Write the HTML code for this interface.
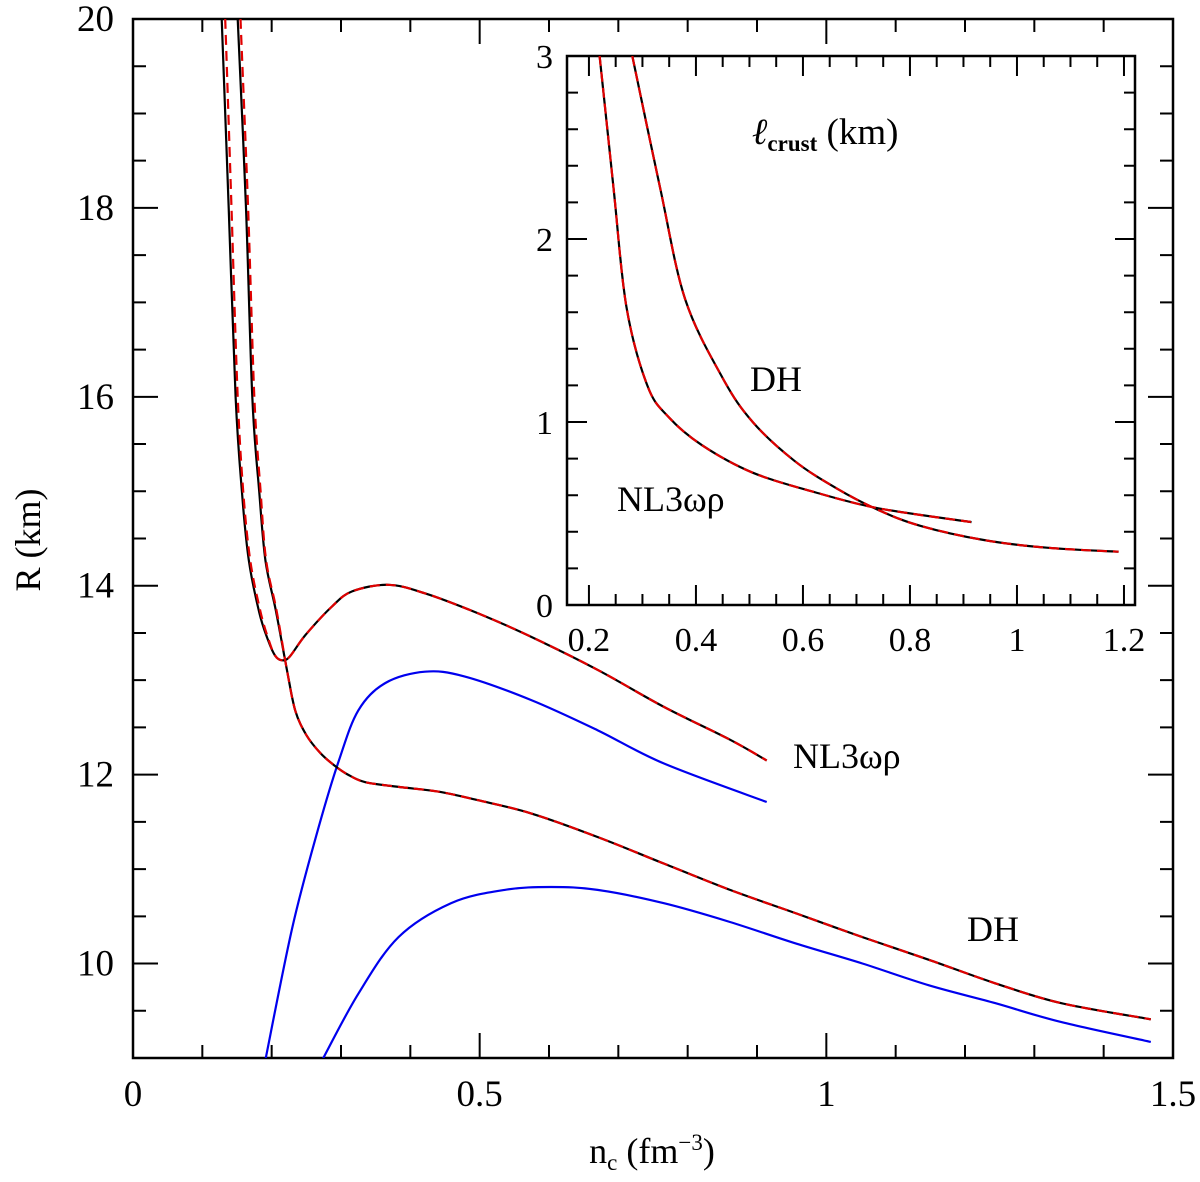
<!DOCTYPE html>
<html><head><meta charset="utf-8"><style>
html,body{margin:0;padding:0;background:#fff;}
svg{display:block;font-family:"Liberation Serif",serif;}
</style></head><body>
<svg id="chart" width="1200" height="1182" viewBox="0 0 1200 1182" xmlns="http://www.w3.org/2000/svg"></svg>
<script>
// ---------- main panel data ----------
const nlN   = [0.128,0.138,0.148,0.157,0.167,0.182,0.195,0.205,0.215,0.226,0.249,0.287,0.316,0.368,0.421,0.497,0.574,0.670,0.765,0.861,0.914];
const nlR   = [20,18,16,15,14.27,13.72,13.42,13.26,13.21,13.25,13.48,13.78,13.94,14.01,13.92,13.71,13.46,13.11,12.72,12.37,12.15];
const nlRedN= [0.133,0.142,0.151,0.159,0.169,0.184,0.196,0.205,0.215,0.226,0.249,0.287,0.316,0.368,0.421,0.497,0.574,0.670,0.765,0.861,0.914];
const dhN   = [0.151,0.163,0.172,0.182,0.191,0.206,0.222,0.234,0.250,0.270,0.290,0.310,0.335,0.383,0.440,0.497,0.574,0.670,0.765,0.861,0.957,1.052,1.148,1.244,1.339,1.468];
const dhR   = [20,18,16,15,14.27,13.74,13.11,12.68,12.42,12.23,12.10,12.00,11.92,11.87,11.82,11.73,11.59,11.34,11.06,10.78,10.53,10.28,10.04,9.79,9.58,9.41];
const dhRedN= [0.155,0.166,0.175,0.184,0.192,0.207,0.222,0.234,0.250,0.270,0.290,0.310,0.335,0.383,0.440,0.497,0.574,0.670,0.765,0.861,0.957,1.052,1.148,1.244,1.339,1.468];
const blueNlN = [0.191,0.230,0.268,0.297,0.325,0.364,0.421,0.478,0.574,0.670,0.765,0.914];
const blueNlR = [8.98,10.39,11.45,12.15,12.68,12.97,13.09,13.04,12.79,12.47,12.12,11.71];
const blueDhN = [0.273,0.325,0.383,0.459,0.536,0.603,0.670,0.765,0.861,0.957,1.052,1.148,1.244,1.339,1.468];
const blueDhR = [8.98,9.68,10.28,10.64,10.78,10.81,10.78,10.64,10.44,10.21,10.00,9.77,9.58,9.38,9.17];
const mainXTicks = ["0","0.5","1","1.5"];
const mainYTicks = ["10","12","14","16","18","20"];
// ---------- inset data ----------
const inNlN = [0.220,0.246,0.270,0.309,0.348,0.411,0.506,0.624,0.742,0.915];
const inNlL = [3.0,2.28,1.63,1.20,1.03,0.874,0.723,0.615,0.528,0.453];
const inDhN = [0.281,0.333,0.380,0.450,0.506,0.584,0.663,0.742,0.820,0.938,1.056,1.19];
const inDhL = [3.0,2.28,1.67,1.24,1.00,0.788,0.637,0.518,0.432,0.355,0.313,0.291];
const inXTicks = ["0.2","0.4","0.6","0.8","1","1.2"];
const inYTicks = ["0","1","2","3"];

const NS="http://www.w3.org/2000/svg";
const svg=document.getElementById('chart');
function mk(tag,attrs,parent){const e=document.createElementNS(NS,tag);for(const k in attrs)e.setAttribute(k,attrs[k]);(parent||svg).appendChild(e);return e;}

const M={x0:133,x1:1173,y0:1058,y1:19,xmin:0,xmax:1.5,ymin:9,ymax:20};
const I={x0:567,x1:1135,y0:605,y1:56,xmin:0.159,xmax:1.2206,ymin:0,ymax:3};
function sx(A,v){return A.x0+(v-A.xmin)/(A.xmax-A.xmin)*(A.x1-A.x0);}
function sy(A,v){return A.y0-(v-A.ymin)/(A.ymax-A.ymin)*(A.y0-A.y1);}

function catmull(pts){
  let d="M"+pts[0][0].toFixed(1)+","+pts[0][1].toFixed(1);
  for(let i=0;i<pts.length-1;i++){
    const p0=pts[Math.max(0,i-1)],p1=pts[i],p2=pts[i+1],p3=pts[Math.min(pts.length-1,i+2)];
    const c1=[p1[0]+(p2[0]-p0[0])/6,p1[1]+(p2[1]-p0[1])/6];
    const c2=[p2[0]-(p3[0]-p1[0])/6,p2[1]-(p3[1]-p1[1])/6];
    d+=" C"+c1[0].toFixed(1)+","+c1[1].toFixed(1)+" "+c2[0].toFixed(1)+","+c2[1].toFixed(1)+" "+p2[0].toFixed(1)+","+p2[1].toFixed(1);
  }
  return d;
}

function frame(A,majX,minX,majY,minY,majLen,minLen,name){
  const g=mk('g',{});
  
  
  const r=mk('rect',{x:A.x0,y:A.y1,width:A.x1-A.x0,height:A.y0-A.y1,fill:'none',stroke:'#000','stroke-width':2.5},g);
  
  
  let d="";
  const eps=1e-6;
  for(let v=Math.ceil(A.xmin/minX-eps)*minX; v<=A.xmax+eps; v+=minX){
    const isMaj=Math.abs(v/majX-Math.round(v/majX))<1e-4;
    const L=isMaj?majLen:minLen, x=sx(A,v);
    d+=`M${x},${A.y0}v${-L}M${x},${A.y1}v${L}`;
  }
  for(let v=Math.ceil(A.ymin/minY-eps)*minY; v<=A.ymax+eps; v+=minY){
    const isMaj=Math.abs(v/majY-Math.round(v/majY))<1e-4;
    const L=isMaj?majLen:minLen, y=sy(A,v);
    d+=`M${A.x0},${y}h${L}M${A.x1},${y}h${-L}`;
  }
  const t=mk('path',{d:d,stroke:'#000','stroke-width':2,fill:'none'},g);
  
  
}

function curve(A,xs,ys,color,dash,name,w){
  const pts=xs.map((x,i)=>[sx(A,x),sy(A,ys[i])]);
  const p=mk('path',{d:catmull(pts),fill:'none',stroke:color,'stroke-width':w||2.2});
  if(dash)p.setAttribute('stroke-dasharray',dash);
  
  
  return p;
}
function text(x,y,s,size,anchor,name){
  const t=mk('text',{x:x,y:y,'text-anchor':anchor||'middle',fill:'#000',style:'font-size:'+size+'px'});
  t.textContent=s;
  
  
  return t;
}

const defs=mk('defs',{});
const cp=mk('clipPath',{id:'mclip'},defs);
mk('rect',{x:M.x0,y:M.y1,width:M.x1-M.x0,height:M.y0-M.y1},cp);
const ci=mk('clipPath',{id:'iclip'},defs);
mk('rect',{x:I.x0,y:I.y1,width:I.x1-I.x0,height:I.y0-I.y1},ci);

frame(M,0.5,0.1,2,0.5,25,13,'main-axes');

const gm=mk('g',{'clip-path':'url(#mclip)'});


function mcurve(xs,ys,c,d,n){const p=curve(M,xs,ys,c,d,n);gm.appendChild(p);}
mcurve(blueNlN,blueNlR,'#0000ee',null,'nl3wr-blue-curve');
mcurve(blueDhN,blueDhR,'#0000ee',null,'dh-blue-curve');
mcurve(nlN,nlR,'#000',null,'nl3wr-black-curve');
mcurve(dhN,dhR,'#000',null,'dh-black-curve');
mcurve(nlRedN,nlR,'#e00000','10 6','nl3wr-red-dashed-curve');
mcurve(dhRedN,dhR,'#e00000','10 6','dh-red-dashed-curve');

mainXTicks.forEach(s=>{text(sx(M,parseFloat(s)),1106,s,37,'middle','x-tick-label');});
mainYTicks.forEach(s=>{text(114,sy(M,parseFloat(s))+12,s,37,'end','y-tick-label');});

const yt=mk('text',{x:0,y:0,'text-anchor':'middle',style:'font-size:36px',transform:'translate(40,540) rotate(-90)'});
yt.textContent='R (km)';


const xt=mk('text',{x:652,y:1163,'text-anchor':'middle',style:'font-size:36px'});
xt.innerHTML='n<tspan style="font-size:23px" dy="7">c</tspan><tspan dy="-7">  (fm</tspan><tspan style="font-size:23px" dy="-13">−3</tspan><tspan dy="13">)</tspan>';



text(793,768,'NL3ωρ',36,'start','nl3wr-label');
text(967,941,'DH',36,'start','dh-label');

const bg=mk('rect',{x:I.x0,y:I.y1,width:I.x1-I.x0,height:I.y0-I.y1,fill:'#fff'});


frame(I,0.2,0.05,1,0.2,20,11,'inset-axes');
const gi=mk('g',{'clip-path':'url(#iclip)'});


function icurve(xs,ys,c,d,n){const p=curve(I,xs,ys,c,d,n);gi.appendChild(p);}
icurve(inNlN,inNlL,'#000',null,'inset-nl3wr-black-curve');
icurve(inDhN,inDhL,'#000',null,'inset-dh-black-curve');
icurve(inNlN,inNlL,'#e00000','10 6','inset-nl3wr-red-dashed-curve');
icurve(inDhN,inDhL,'#e00000','10 6','inset-dh-red-dashed-curve');

inXTicks.forEach(s=>{text(sx(I,parseFloat(s)),651,s,34,'middle','inset-x-tick-label');});
inYTicks.forEach(s=>{text(553,sy(I,parseFloat(s))+12,s,34,'end','inset-y-tick-label');});

const lt=mk('text',{x:752,y:144,style:'font-size:37px'});
lt.innerHTML='<tspan font-style="italic">ℓ</tspan><tspan style="font-size:23px" font-weight="bold" dy="7">crust</tspan><tspan dy="-7">  (km)</tspan>';


text(750,391,'DH',36,'start','inset-dh-label');
text(617,511,'NL3ωρ',36,'start','inset-nl3wr-label');
</script>
</body></html>
